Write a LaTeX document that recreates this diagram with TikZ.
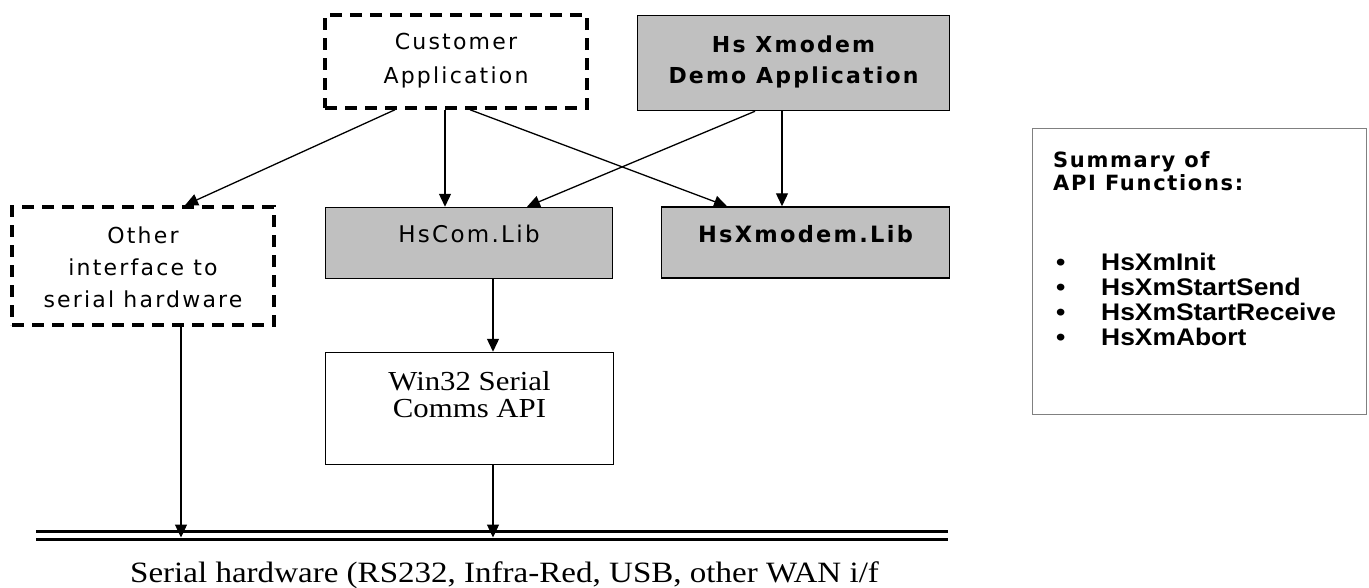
\documentclass[tikz,border=0pt]{standalone}
\usepackage{fontspec}
\usetikzlibrary{arrows.meta,calc}
\newfontfamily\dsans[LetterSpace=10]{DejaVu Sans}
\newfontfamily\hdfont[LetterSpace=8]{DejaVu Sans}
\newfontfamily\serifw[FakeStretch=1.12]{Liberation Serif}
\newfontfamily\apifont[FakeStretch=1.1]{Liberation Sans}
\newcommand\tlines[1]{\begin{tabular}[b]{@{}c@{}}#1\end{tabular}}
\newcommand\bul{\makebox[48pt][l]{\hspace{3pt}\textbullet}}
\definecolor{boxgray}{HTML}{C0C0C0}
\definecolor{bordgray}{HTML}{808080}
\tikzset{
  dashbox/.style={draw, line width=3.5pt, dash pattern=on 12pt off 8pt, inner sep=0pt},
  graybox/.style={draw, line width=1.5pt, fill=boxgray, inner sep=0pt},
  whitebox/.style={draw, line width=1.5pt, fill=white, inner sep=0pt},
  arr/.style={line width=1.3pt, -{Triangle[length=13pt,width=12pt]}},
  bus/.style={line width=3pt},
}
\begin{document}
\begin{tikzpicture}[x=1pt,y=-1pt]
\useasboundingbox (0,0) rectangle (1369,587);
% boxes
\node[dashbox, minimum width=262pt, minimum height=93pt, text height=45pt, text depth=2pt, font=\dsans\fontsize{22}{34}\selectfont] (cust) at (456,61.5) {\tlines{Customer\\Application}};
\node[graybox, minimum width=312pt, minimum height=95pt, text height=42pt, text depth=2pt, font=\dsans\bfseries\fontsize{22}{31}\selectfont] (demo) at (793.5,63) {\tlines{Hs Xmodem\\Demo Application}};
\node[dashbox, minimum width=262pt, minimum height=118pt, text height=84pt, text depth=2pt, font=\dsans\fontsize{22}{32}\selectfont] (other) at (143,266) {\tlines{Other\\interface to\\serial hardware}};
\node[graybox, minimum width=287pt, minimum height=71pt, text height=17pt, text depth=19pt, font=\dsans\fontsize{23}{30}\selectfont] (hscom) at (469,243) {HsCom.Lib};
\node[graybox, minimum width=288pt, minimum height=71pt, text height=17pt, text depth=18pt, font=\dsans\bfseries\fontsize{22.5}{30}\selectfont] (hsxm) at (805.5,242.5) {HsXmodem.Lib};
\node[whitebox, minimum width=288pt, minimum height=112pt, text height=30pt, text depth=13pt, font=\serifw\fontsize{27.5}{27}\selectfont] (win) at (469.5,408.5) {\tlines{Win32 Serial\\Comms API}};
\node[draw=bordgray, line width=1.5pt, minimum width=334pt, minimum height=286pt, inner sep=0pt] (sum) at (1199.5,271.5) {};
\node[anchor=base west, inner sep=0pt] (sumtext) at (1053,167) {\parbox[t]{310pt}{%
  {\hdfont\bfseries\fontsize{21}{23.5}\selectfont Summary of\\API Functions:\par}
  \vspace{54.5pt}%
  {\apifont\bfseries\fontsize{24}{25}\selectfont
  \bul HsXmInit\\
  \bul HsXmStartSend\\
  \bul HsXmStartReceive\\
  \bul HsXmAbort\par}}};
% bus
\coordinate (busL) at (36,539);
\coordinate (busR) at (948,539);
\draw[bus] (busL) -- (busR);
\draw[bus] ([yshift=8pt]busL) -- ([yshift=8pt]busR);
\coordinate (b1) at (181,537.5);
\coordinate (b2) at (493,537.5);
\node[anchor=base west, inner sep=0pt, font=\serifw\fontsize{29.5}{30}\selectfont] (hwlabel) at (130,582) {Serial hardware (RS232, Infra-Red, USB, other WAN i/f};
% connectors
\draw[arr] ([xshift=-61pt]cust.south) -- ([xshift=42pt]other.north);
\draw[arr] ([xshift=-11pt]cust.south) -- ([xshift=-24pt]hscom.north);
\draw[arr] ([xshift=14pt]cust.south) -- ([xshift=-78.5pt]hsxm.north);
\draw[arr] ([xshift=-38.5pt]demo.south) -- ([xshift=58pt]hscom.north);
\draw[arr] ([xshift=-11.5pt]demo.south) -- ([xshift=-23.5pt]hsxm.north);
\draw[arr] ([xshift=24pt]hscom.south) -- ([xshift=23.5pt]win.north);
\draw[arr] (other.south -| b1) -- (b1);
\draw[arr] (win.south -| b2) -- (b2);
\end{tikzpicture}
\end{document}
